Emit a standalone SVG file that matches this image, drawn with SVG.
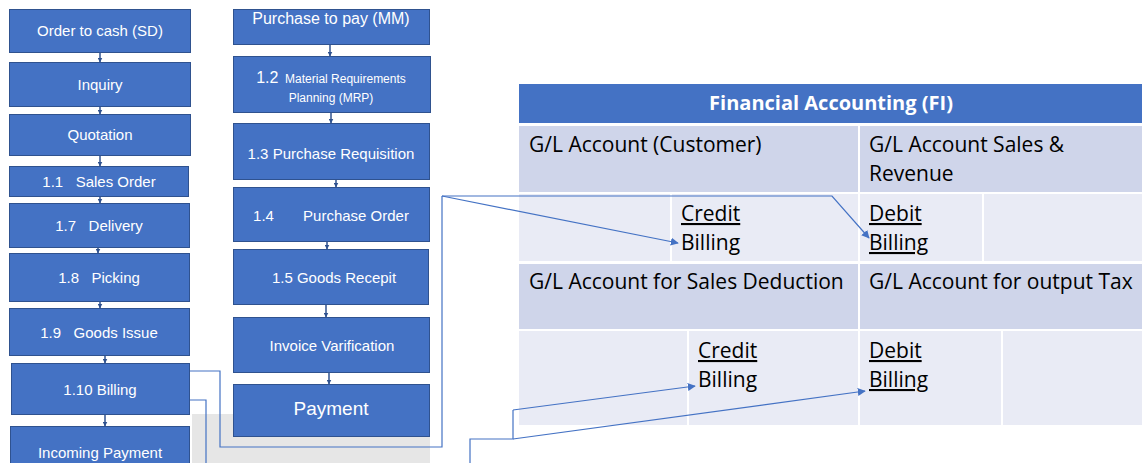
<svg xmlns="http://www.w3.org/2000/svg" width="1142" height="463" viewBox="0 0 1142 463">
  <style>
    .box { fill: #4472C4; stroke: #2F528F; stroke-width: 1; }
    .lbl { fill: #ffffff; font-family: "Liberation Sans", Arial, sans-serif; font-size: 15px; text-anchor: middle; white-space: pre; }
    .hdr { fill: #4472C4; }
    .dark { fill: #CFD5EA; }
    .light { fill: #E9EBF5; }
    .cell { fill: #000000; font-family: "Open Sans", "Liberation Sans", sans-serif; font-size: 21px; }
    .u { text-decoration: underline; }
    .step { stroke: #2F528F; stroke-width: 1.5; fill: none; marker-end: url(#tiny); }
    .link { stroke: #4472C4; stroke-width: 1.2; fill: none; }
    .arr { marker-end: url(#head); }
  </style>
  <defs>
    <marker id="head" viewBox="0 0 10 10" refX="9" refY="5" markerWidth="8" markerHeight="8" markerUnits="userSpaceOnUse" orient="auto">
      <path d="M0,0 L10,5 L0,10 z" fill="#4472C4"/>
    </marker>
    <marker id="tiny" viewBox="0 0 10 10" refX="9" refY="5" markerWidth="5" markerHeight="5" markerUnits="userSpaceOnUse" orient="auto">
      <path d="M0,0 L10,5 L0,10 z" fill="#2F528F"/>
    </marker>
  </defs>

  <!-- shaded strip behind the lower boxes -->
  <rect x="192" y="414" width="238" height="49" fill="#E6E6E6"/>

  <!-- sales & distribution chain -->
  <g id="sd-order-to-cash"><rect class="box" x="9.5" y="9.5" width="181" height="43"/><text class="lbl" x="100" y="36">Order to cash (SD)</text></g>
  <g id="sd-inquiry"><rect class="box" x="9.5" y="62.5" width="181" height="44"/><text class="lbl" x="100" y="90">Inquiry</text></g>
  <g id="sd-quotation"><rect class="box" x="9.5" y="114.5" width="181" height="41"/><text class="lbl" x="100" y="140">Quotation</text></g>
  <g id="sd-sales-order"><rect class="box" x="9.5" y="166.5" width="179" height="30"/><text class="lbl" x="99" y="187">1.1   Sales Order</text></g>
  <g id="sd-delivery"><rect class="box" x="9.5" y="203.5" width="180" height="44"/><text class="lbl" x="99" y="231">1.7   Delivery</text></g>
  <g id="sd-picking"><rect class="box" x="9.5" y="253.5" width="180" height="48"/><text class="lbl" x="99" y="283">1.8   Picking</text></g>
  <g id="sd-goods-issue"><rect class="box" x="9.5" y="308.5" width="180" height="47"/><text class="lbl" x="99" y="338">1.9   Goods Issue</text></g>
  <g id="sd-billing"><rect class="box" x="11.5" y="363.5" width="178" height="51"/><text class="lbl" x="100" y="395">1.10 Billing</text></g>
  <g id="sd-incoming-payment"><rect class="box" x="10.5" y="426.5" width="179" height="45"/><text class="lbl" x="100" y="458">Incoming Payment</text></g>

  <!-- materials management chain -->
  <g id="mm-purchase-to-pay"><rect class="box" x="233.5" y="9.5" width="196" height="35"/><text class="lbl" x="331" y="24" style="font-size:16px">Purchase to pay (MM)</text></g>
  <g id="mm-mrp"><rect class="box" x="233.5" y="56.5" width="197" height="56"/>
    <text class="lbl" x="331" y="83" style="font-size:12px"><tspan style="font-size:16px">1.2</tspan>  Material Requirements</text>
    <text class="lbl" x="331" y="102" style="font-size:12px">Planning (MRP)</text></g>
  <g id="mm-requisition"><rect class="box" x="233.5" y="123.5" width="196" height="56"/><text class="lbl" x="331" y="159">1.3 Purchase Requisition</text></g>
  <g id="mm-purchase-order"><rect class="box" x="233.5" y="187.5" width="196" height="54"/><text class="lbl" x="331" y="221">1.4       Purchase Order</text></g>
  <g id="mm-goods-receipt"><rect class="box" x="233.5" y="249.5" width="195" height="55"/><text class="lbl" x="334" y="283">1.5 Goods Recepit</text></g>
  <g id="mm-invoice"><rect class="box" x="233.5" y="317.5" width="196" height="55"/><text class="lbl" x="332" y="351">Invoice Varification</text></g>
  <g id="mm-payment"><rect class="box" x="233.5" y="384.5" width="196" height="52"/><text class="lbl" x="331" y="415" style="font-size:19px">Payment</text></g>

  <!-- financial accounting table -->
  <g id="fi-table">
    <rect class="hdr" x="519" y="84" width="623" height="39"/>
    <text x="831" y="110" text-anchor="middle" style="fill:#fff;font-family:'Open Sans','Liberation Sans',sans-serif;font-size:20px;font-weight:bold">Financial Accounting (FI)</text>

    <rect class="dark" x="519" y="126" width="339" height="66"/>
    <rect class="dark" x="860" y="126" width="282" height="66"/>
    <rect class="light" x="519" y="194" width="151" height="67"/>
    <rect class="light" x="672" y="194" width="186" height="67"/>
    <rect class="light" x="860" y="194" width="122" height="67"/>
    <rect class="light" x="984" y="194" width="158" height="67"/>
    <rect class="dark" x="519" y="264" width="339" height="65"/>
    <rect class="dark" x="860" y="264" width="282" height="65"/>
    <rect class="light" x="519" y="331" width="168" height="94"/>
    <rect class="light" x="689" y="331" width="169" height="94"/>
    <rect class="light" x="860" y="331" width="141" height="94"/>
    <rect class="light" x="1003" y="331" width="139" height="94"/>

    <text class="cell" x="529" y="152">G/L Account (Customer)</text>
    <text class="cell" x="869" y="152">G/L Account Sales &amp;</text>
    <text class="cell" x="869" y="181">Revenue</text>
    <text class="cell u" x="681" y="221">Credit</text>
    <text class="cell" x="681" y="250">Billing</text>
    <text class="cell u" x="869" y="221">Debit</text>
    <text class="cell u" x="869" y="250">Billing</text>
    <text class="cell" x="529" y="289">G/L Account for Sales Deduction</text>
    <text class="cell" x="869" y="289">G/L Account for output Tax</text>
    <text class="cell u" x="698" y="358">Credit</text>
    <text class="cell" x="698" y="387">Billing</text>
    <text class="cell u" x="869" y="358">Debit</text>
    <text class="cell u" x="869" y="387">Billing</text>
  </g>

  <!-- connectors -->
  <g id="connectors">
    <line class="step" x1="100" y1="53" x2="100" y2="62"/>
    <line class="step" x1="100" y1="107" x2="100" y2="114"/>
    <line class="step" x1="100" y1="156" x2="100" y2="166"/>
    <line class="step" x1="100" y1="197" x2="100" y2="203"/>
    <line class="step" x1="98" y1="248" x2="98" y2="253"/>
    <line class="step" x1="100" y1="302" x2="100" y2="308"/>
    <line class="step" x1="105" y1="356" x2="105" y2="363"/>
    <line class="step" x1="105" y1="415" x2="105" y2="426"/>

    <line class="step" x1="330" y1="45" x2="330" y2="56"/>
    <line class="step" x1="331" y1="113" x2="331" y2="123"/>
    <line class="step" x1="336" y1="180" x2="336" y2="187"/>
    <line class="step" x1="327" y1="242" x2="327" y2="249"/>
    <line class="step" x1="326" y1="305" x2="326" y2="317"/>
    <line class="step" x1="329" y1="373" x2="329" y2="384"/>

    <!-- billing to revenue accounts -->
    <polyline class="link" points="190,371 220,371 220,447 442,447 442,196"/>
    <line class="link arr" x1="442" y1="196" x2="678" y2="243"/>
    <polyline class="link arr" points="442,196 832,196 869,238"/>

    <!-- billing to deduction and tax accounts -->
    <polyline class="link" points="190,400 206,400 206,463"/>
    <polyline class="link" points="470,463 470,439 513,439 513,410"/>
    <line class="link arr" x1="513" y1="410" x2="695" y2="386"/>
    <line class="link arr" x1="513" y1="439" x2="865" y2="391"/>
  </g>
</svg>
